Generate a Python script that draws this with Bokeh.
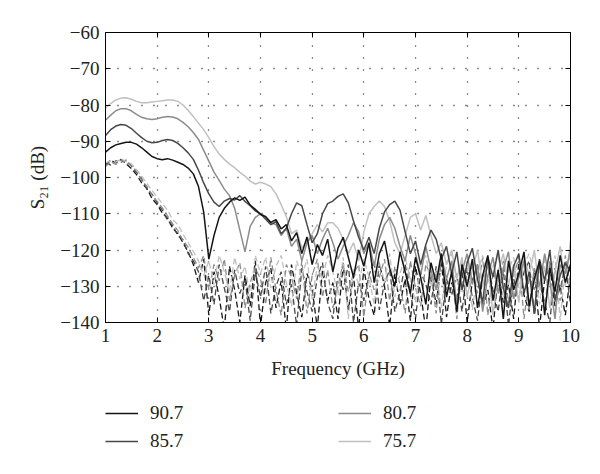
from bokeh.plotting import figure
from bokeh.layouts import column
from bokeh.models import Legend, LegendItem, LinearAxis, FixedTicker, Range1d
from bokeh.embed import file_html
from bokeh.resources import INLINE

# ---------------- data ----------------
freq = [round(1.0 + 0.1 * i, 1) for i in range(91)]  # GHz sampling grid

x_ticks = [1, 2, 3, 4, 5, 6, 7, 8, 9, 10]
y_ticks = [-140, -130, -120, -110, -100, -90, -80, -70, -60]

labels = ["90.7", "85.7", "80.7", "75.7"]

s907 = [-93.0, -91.8, -91.0, -90.6, -90.3, -90.3, -90.8, -91.8, -93.0, -94.2,
        -94.8, -95.1, -94.8, -95.2, -95.8, -96.4, -97.4, -99.0, -102.5, -109.5,
        -122.5, -116.0, -111.0, -108.5, -106.8, -105.6, -106.3, -105.4, -107.6, -108.8,
        -110.2, -110.8, -112.4, -111.6, -114.2, -113.0, -117.5, -115.2, -121.0, -116.4,
        -124.0, -118.5, -121.5, -117.0, -126.0, -119.5, -116.5, -122.0, -127.5, -120.0,
        -124.5, -118.0, -129.0, -121.0, -117.5, -125.0, -130.0, -120.5, -126.0, -132.0,
        -122.0, -127.5, -135.0, -123.5, -129.0, -121.0, -133.0, -126.0, -137.0, -124.0,
        -130.0, -122.5, -136.0, -127.0, -121.5, -134.0, -125.5, -139.0, -123.0, -131.0,
        -126.5, -120.5, -135.5, -128.0, -123.0, -138.0, -125.0, -131.5, -121.5, -129.0,
        -124.0]

s857 = [-88.4, -86.8, -85.8, -85.4, -85.6, -86.5, -87.8, -89.0, -90.0, -90.4,
        -90.3, -89.8, -89.5, -89.8, -90.6, -91.8, -93.2, -95.0, -98.0, -101.5,
        -104.5, -106.8, -108.0, -106.5, -105.8, -106.2, -105.0, -106.6, -107.8, -109.2,
        -110.0, -111.5, -113.0, -112.2, -115.5, -114.0, -110.0, -107.0, -107.8, -113.0,
        -118.0, -115.5, -110.0, -107.2, -106.5, -105.2, -104.5, -107.0, -112.0, -116.5,
        -120.0, -116.5, -121.0, -114.0, -109.5, -107.5, -106.5, -109.0, -115.0, -121.0,
        -117.5, -124.0, -118.5, -114.5, -117.0, -122.5, -119.0, -126.5, -120.5, -131.0,
        -123.5, -119.5, -128.0, -134.5, -122.0, -127.5, -120.0, -130.5, -136.0, -124.5,
        -121.0, -132.0, -126.0, -137.5, -122.5, -128.5, -120.0, -134.0, -127.0, -123.5,
        -126.0]

s807 = [-84.2, -82.8, -81.6, -81.0, -81.0, -81.6, -82.6, -83.4, -83.8, -84.0,
        -83.8, -83.4, -83.2, -83.3, -83.8, -84.8, -86.0, -87.6, -89.5, -92.5,
        -95.5, -98.5, -100.8, -103.2, -105.0, -108.5, -114.5, -120.5, -113.5, -111.0,
        -110.0, -110.8, -112.5, -113.0, -116.0, -114.0, -119.0, -117.0, -123.0, -118.0,
        -116.0, -121.0, -117.0, -114.0, -118.0, -122.5, -119.0, -116.0, -112.5, -115.0,
        -121.0, -118.0, -124.5, -117.0, -113.0, -111.0, -114.0, -119.0, -123.0, -116.0,
        -121.0, -127.0, -119.0, -125.5, -131.0, -121.5, -128.0, -123.0, -135.0, -126.0,
        -121.0, -129.5, -124.0, -137.0, -127.0, -122.0, -132.0, -125.0, -120.5, -133.5,
        -127.5, -123.0, -136.5, -125.0, -130.0, -121.0, -128.5, -139.0, -124.0, -126.5,
        -120.0]

s757 = [-80.8, -79.6, -78.6, -78.1, -78.0, -78.4, -79.0, -79.4, -79.4, -79.2,
        -79.0, -78.8, -78.6, -78.6, -79.0, -80.0, -81.5, -83.2, -85.0, -86.8,
        -89.0, -91.5, -93.5, -95.0, -96.3, -97.3, -98.6, -99.6, -101.0, -101.8,
        -101.3, -101.8, -102.5, -104.5, -107.5, -110.8, -115.5, -114.5, -119.5, -117.5,
        -115.5, -113.0, -115.0, -112.5, -112.5, -114.0, -117.0, -121.0, -118.0, -123.0,
        -115.0, -110.0, -108.0, -106.5, -108.0, -112.0, -118.0, -121.0, -116.0, -111.0,
        -110.0, -114.5, -110.5, -116.0, -121.0, -118.0, -124.0, -120.0, -128.0, -122.0,
        -133.0, -125.5, -120.0, -130.0, -123.5, -138.0, -126.0, -121.0, -129.5, -124.0,
        -134.5, -122.0, -127.0, -120.0, -131.0, -124.5, -136.0, -126.0, -119.0, -130.0,
        -117.5]

d907 = [-96.5, -95.2, -96.0, -95.0, -96.2, -97.5, -99.2, -101.5, -103.0, -105.8,
        -107.5, -109.8, -111.2, -114.0, -115.5, -118.0, -120.5, -124.0, -129.0, -122.5,
        -138.0, -126.0, -133.0, -142.0, -124.5, -131.0, -140.0, -127.0, -135.5, -123.0,
        -141.0, -129.0, -125.0, -136.0, -128.5, -142.0, -124.0, -132.0, -138.5, -126.5,
        -131.0, -141.5, -125.5, -134.0, -129.0, -139.0, -124.0, -136.5, -127.0, -142.0,
        -125.0, -133.5, -138.0, -123.5, -130.0, -141.0, -126.5, -135.0, -128.0, -139.5,
        -124.5, -132.0, -142.0, -127.0, -135.0, -123.0, -138.5, -129.0, -133.5, -125.0,
        -140.0, -128.5, -124.0, -136.0, -131.0, -142.0, -126.0, -134.5, -129.5, -139.0,
        -123.5, -132.5, -137.0, -126.0, -141.5, -128.0, -124.5, -135.5, -130.0, -138.0,
        -127.0]

d857 = [-95.8, -96.6, -95.4, -95.8, -95.2, -96.8, -98.6, -100.4, -103.2, -104.6,
        -107.0, -109.0, -111.8, -113.2, -116.0, -117.2, -121.0, -123.0, -126.0, -134.0,
        -127.0, -135.0, -124.0, -130.5, -137.0, -125.5, -132.0, -128.0, -139.5, -126.0,
        -133.0, -124.5, -137.5, -130.0, -126.0, -135.0, -129.5, -141.0, -125.0, -131.5,
        -137.0, -127.5, -123.5, -134.5, -139.0, -126.5, -131.0, -124.0, -140.0, -129.0,
        -134.0, -127.0, -123.0, -136.5, -129.0, -125.5, -137.0, -131.5, -124.0, -132.0,
        -139.0, -126.0, -129.5, -135.0, -124.5, -140.5, -128.0, -132.5, -126.5, -137.0,
        -125.0, -133.0, -139.5, -127.5, -124.5, -131.0, -137.0, -125.5, -141.0, -128.0,
        -133.5, -126.0, -123.0, -138.0, -129.0, -134.5, -140.0, -125.0, -131.0, -124.0,
        -135.0]

d807 = [-97.0, -95.6, -96.4, -95.2, -96.0, -96.6, -98.2, -100.8, -102.4, -104.8,
        -106.6, -108.4, -110.6, -112.8, -114.6, -117.4, -119.2, -122.0, -125.0, -121.5,
        -131.0, -124.0, -128.5, -122.5, -134.0, -127.0, -123.5, -136.0, -129.0, -125.0,
        -128.0, -135.0, -122.0, -131.0, -138.0, -124.0, -127.5, -133.5, -123.0, -137.5,
        -127.0, -122.5, -133.0, -125.5, -136.0, -130.0, -123.5, -131.5, -126.5, -124.0,
        -138.5, -126.5, -131.0, -127.5, -122.5, -134.0, -124.5, -129.5, -137.5, -123.0,
        -130.5, -135.5, -124.0, -127.0, -137.5, -122.0, -131.0, -126.5, -139.0, -123.5,
        -128.5, -124.5, -132.0, -122.0, -138.0, -126.0, -130.0, -123.0, -134.5, -127.5,
        -122.0, -139.0, -127.5, -131.0, -124.0, -136.5, -123.0, -129.5, -134.0, -121.5,
        -131.0]

d757 = [-96.0, -95.4, -95.8, -94.8, -95.6, -96.2, -97.8, -99.6, -101.6, -103.6,
        -105.4, -107.2, -109.0, -111.6, -113.0, -115.6, -118.0, -120.4, -123.0, -127.0,
        -123.0, -129.5, -121.5, -126.0, -131.5, -122.0, -128.0, -124.5, -133.0, -121.5,
        -126.5, -122.0, -130.5, -124.5, -121.5, -129.0, -135.5, -123.0, -127.5, -122.5,
        -133.5, -124.5, -128.0, -121.5, -126.0, -132.5, -122.0, -139.0, -125.0, -129.5,
        -122.5, -127.5, -135.0, -123.0, -129.0, -121.0, -133.0, -126.5, -122.0, -128.0,
        -134.5, -123.5, -121.5, -130.0, -125.5, -136.0, -124.0, -121.0, -128.5, -132.0,
        -123.0, -136.5, -126.0, -121.5, -129.0, -124.5, -121.0, -133.0, -125.5, -122.0,
        -130.5, -124.0, -121.0, -127.0, -135.0, -122.5, -126.5, -121.5, -139.5, -124.5,
        -122.0]

solid_series = [s907, s857, s807, s757]
dashed_series = [d907, d857, d807, d757]
colors = ["#151515", "#474747", "#8c8c8c", "#c0c0c0"]

FONT = "Liberation Serif"
FS = "19px"

# ---------------- main figure ----------------
p = figure(width=592, height=386, output_backend="svg", toolbar_location=None,
           x_range=Range1d(1, 10), y_range=Range1d(-140, -60),
           min_border_left=105, min_border_right=22, min_border_top=32,
           min_border_bottom=64)
p.background_fill_color = "white"
p.border_fill_color = "white"
p.outline_line_color = "black"
p.outline_line_width = 1

p.xaxis.ticker = FixedTicker(ticks=x_ticks)
p.yaxis.ticker = FixedTicker(ticks=y_ticks)
p.yaxis.major_label_overrides = {v: "\u2212" + str(abs(v)) for v in y_ticks}
p.xaxis.axis_label = "Frequency (GHz)"
p.yaxis.axis_label = "S\u2082\u2081 (dB)"
for ax in (p.xaxis[0], p.yaxis[0]):
    ax.major_label_text_font = FONT
    ax.major_label_text_font_size = FS
    ax.major_label_text_color = "#222222"
    ax.axis_label_text_font = FONT
    ax.axis_label_text_font_size = FS
    ax.axis_label_text_font_style = "normal"
    ax.axis_label_text_color = "#222222"
    ax.major_tick_in = 5
    ax.major_tick_out = 0
    ax.minor_tick_in = 0
    ax.minor_tick_out = 0
    ax.axis_line_color = "black"
    ax.major_tick_line_color = "black"
p.xaxis.major_label_standoff = 6
p.xaxis.axis_label_standoff = 13
p.yaxis.major_label_standoff = 6
p.yaxis.axis_label_standoff = 9

# mirrored ticks on top and right (no labels)
top_ax = LinearAxis(ticker=FixedTicker(ticks=x_ticks),
                    major_label_overrides={t: "" for t in x_ticks},
                    major_label_text_font_size="1px",
                    major_tick_in=5, major_tick_out=0, minor_tick_in=0, minor_tick_out=0,
                    major_label_standoff=0, axis_line_color="black")
right_ax = LinearAxis(ticker=FixedTicker(ticks=y_ticks),
                      major_label_overrides={t: "" for t in y_ticks},
                      major_label_text_font_size="1px",
                      major_tick_in=5, major_tick_out=0, minor_tick_in=0, minor_tick_out=0,
                      major_label_standoff=0, axis_line_color="black")
p.add_layout(top_ax, "above")
p.add_layout(right_ax, "right")

for g in (p.xgrid[0], p.ygrid[0]):
    g.grid_line_color = "black"
    g.grid_line_dash = "1 11"
    g.grid_line_width = 1.3
    g.grid_line_alpha = 0.9

# dashed traces (underneath)
for ys, c in zip(dashed_series, colors):
    p.line(freq, ys, line_color=c, line_width=1.3, line_dash="6 3")

# solid traces, lightest first so the darkest ends on top
for ys, c in reversed(list(zip(solid_series, colors))):
    p.line(freq, ys, line_color=c, line_width=1.5)

# ---------------- legend strip below ----------------
# the same series are attached here only to feed the legend; this strip's
# ranges do not include them, so nothing but the legend is visible
pl = figure(width=592, height=80, output_backend="svg", toolbar_location=None,
            x_range=Range1d(0, 1), y_range=Range1d(0, 1),
            x_axis_location=None, y_axis_location=None, min_border=0)
pl.outline_line_color = None
pl.xgrid.visible = False
pl.ygrid.visible = False
pl.background_fill_color = "white"
pl.border_fill_color = "white"

items = []
for lab, ys, c in zip(labels, solid_series, colors):
    r = pl.line(freq, ys, line_color=c, line_width=1.5)
    items.append(LegendItem(label=lab, renderers=[r]))

legend = Legend(items=items, ncols=2, location=(0, 14), margin=0, padding=0,
                spacing=6, glyph_width=33, glyph_height=22, label_height=22,
                label_width=182, label_standoff=12,
                label_text_font=FONT, label_text_font_size=FS,
                label_text_color="#222222",
                border_line_color=None, background_fill_alpha=0)
pl.add_layout(legend, "center")

open("out.html", "w").write(file_html(column(p, pl, spacing=0), INLINE))
